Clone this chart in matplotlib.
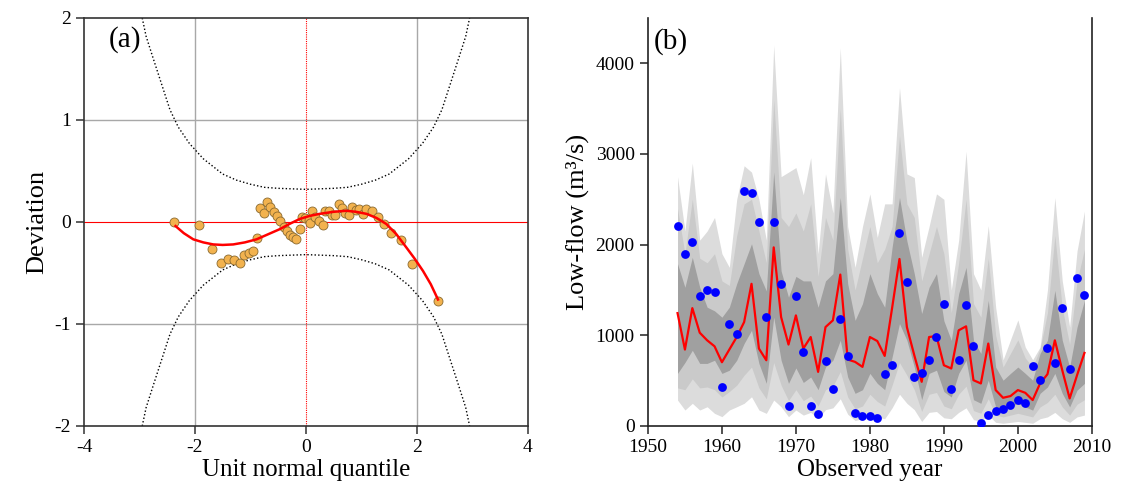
import numpy as np
import matplotlib
matplotlib.use("Agg")
import matplotlib.pyplot as plt

plt.rcParams["font.family"] = ["Liberation Serif", "DejaVu Serif"]
plt.rcParams["axes.unicode_minus"] = False

# ---- panel (a): deviation vs unit normal quantile ----
qq_x = [-2.37, -1.93, -1.70, -1.53, -1.41, -1.30, -1.18, -1.11, -1.03, -0.95,
        -0.88, -0.82, -0.76, -0.70, -0.64, -0.58, -0.52, -0.46, -0.40, -0.34,
        -0.28, -0.23, -0.17, -0.11, -0.07, -0.01, 0.05, 0.07, 0.11, 0.17,
        0.24, 0.30, 0.35, 0.41, 0.47, 0.53, 0.59, 0.65, 0.71, 0.77,
        0.83, 0.90, 0.96, 1.03, 1.09, 1.19, 1.30, 1.41, 1.53, 1.71,
        1.92, 2.38]
qq_y = [0.00, -0.03, -0.26, -0.40, -0.36, -0.37, -0.40, -0.32, -0.30, -0.28,
        -0.16, 0.14, 0.09, 0.20, 0.15, 0.10, 0.06, 0.01, -0.05, -0.09,
        -0.13, -0.15, -0.17, -0.07, 0.05, 0.04, 0.02, -0.01, 0.11, 0.05,
        0.01, -0.03, 0.11, 0.11, 0.07, 0.07, 0.18, 0.14, 0.09, 0.07,
        0.15, 0.12, 0.13, 0.08, 0.13, 0.11, 0.05, -0.02, -0.11, -0.18,
        -0.41, -0.77]

# fitted curve
fit_x = [-2.35, -2.2, -2.03, -1.85, -1.67, -1.5, -1.31, -1.1, -0.89, -0.68,
         -0.47, -0.3, -0.11, 0.07, 0.25, 0.5, 0.73, 0.9, 1.09, 1.27,
         1.45, 1.63, 1.81, 1.96, 2.11, 2.25, 2.38]
fit_y = [-0.04, -0.11, -0.17, -0.20, -0.22, -0.225, -0.22, -0.20, -0.17, -0.12,
         -0.07, -0.02, 0.03, 0.06, 0.08, 0.10, 0.11, 0.10, 0.08, 0.04,
         -0.02, -0.12, -0.25, -0.36, -0.48, -0.61, -0.76]

# confidence limits (upper half; lower is mirrored)
ci_x = [-2.95, -2.88, -2.75, -2.6, -2.45, -2.3, -2.1, -1.85, -1.5, -1.25, -1.0,
        -0.75, -0.5, 0.0, 0.5, 0.75, 1.0, 1.25, 1.5, 1.85, 2.1, 2.3, 2.45,
        2.6, 2.75, 2.88, 2.95]
ci_up = [2.0, 1.82, 1.6, 1.35, 1.1, 0.93, 0.77, 0.62, 0.47, 0.41, 0.37,
         0.34, 0.33, 0.32, 0.33, 0.34, 0.37, 0.41, 0.47, 0.62, 0.77, 0.93, 1.1,
         1.35, 1.6, 1.82, 2.0]

# ---- panel (b): low-flow by year ----
years = list(range(1954, 2010))
observed = [2210, 1900, 2030, 1430, 1505, 1480, 430, 1130, 1020, 2590,
            2575, 2245, 1200, 2255, 1565, 220, 1435, 815, 220, 130,
            720, 405, 1185, 770, 140, 110, 110, 85, 570, 670,
            2130, 1585, 540, 585, 725, 985, 1345, 405, 730, 1330,
            885, 30, 125, 170, 190, 235, 285, 255, 660, 505,
            855, 695, 1300, 625, 1635, 1450]
median = [1245, 843, 1300, 1029, 945, 879, 703, 843, 981, 1146,
          1568, 854, 725, 1970, 1201, 898, 1220, 854, 981, 597,
          1091, 1165, 1670, 733, 707, 652, 981, 937, 773, 1300,
          1842, 1091, 780, 487, 981, 993, 670, 634, 1055, 1099,
          505, 469, 909, 396, 311, 330, 396, 366, 286, 469,
          571, 945, 615, 304, 560, 806]
outer_hi = [2750, 2150, 2900, 2050, 2150, 2300, 1900, 1750, 2500, 2870,
            2800, 2500, 2050, 4200, 2750, 2800, 2850, 2550, 2960, 1900,
            2780, 2350, 4170, 2200, 1750, 2200, 2560, 2080, 2450, 2450,
            3730, 2780, 2740, 1860, 2200, 2560, 2500, 1500, 2050, 3030,
            1680, 1500, 2210, 1310, 730, 950, 1170, 870, 730, 870,
            1500, 2520, 1600, 1090, 1930, 2370]
outer_lo = [286, 176, 250, 176, 212, 139, 103, 176, 212, 250,
            322, 176, 139, 286, 212, 103, 176, 120, 150, 80,
            180, 200, 300, 130, 60, 80, 150, 100, 80, 200,
            350, 250, 180, 50, 150, 160, 90, 80, 150, 200,
            70, 50, 120, 40, 30, 40, 50, 40, 30, 80,
            100, 150, 80, 40, 100, 120]
mid_hi = [2400, 1900, 2500, 1850, 1800, 1900, 1600, 1550, 2100, 2450,
          2500, 2150, 1800, 3600, 2300, 2200, 2350, 2150, 2450, 1650,
          2300, 2050, 3500, 1950, 1500, 1850, 2200, 1800, 1950, 2200,
          3200, 2450, 2300, 1600, 1900, 2200, 1900, 1250, 1800, 2500,
          1350, 1200, 1850, 1000, 650, 800, 950, 750, 650, 850,
          1250, 2100, 1300, 900, 1600, 1950]
mid_lo = [420, 400, 520, 420, 430, 400, 320, 380, 450, 560,
          650, 420, 300, 700, 450, 280, 400, 280, 330, 220,
          400, 440, 600, 320, 190, 220, 350, 270, 220, 450,
          700, 560, 400, 160, 350, 370, 220, 190, 350, 440,
          170, 140, 300, 120, 100, 120, 140, 120, 100, 210,
          260, 350, 210, 120, 240, 290]
inner_hi = [1790, 1530, 1860, 1530, 1310, 1270, 1200, 1310, 1570, 1790,
            2010, 1680, 1490, 2800, 1710, 1420, 1650, 1600, 1600, 1310,
            1600, 1680, 2520, 1570, 1165, 1350, 1680, 1460, 1310, 1970,
            2520, 2040, 1680, 1240, 1530, 1680, 1160, 945, 1460, 1750,
            945, 800, 1385, 650, 505, 580, 650, 580, 505, 800,
            945, 1495, 945, 650, 1090, 1385]
inner_lo = [580, 700, 835, 690, 690, 725, 580, 615, 725, 910,
            1055, 690, 470, 1200, 725, 470, 640, 480, 540, 400,
            650, 725, 945, 540, 360, 400, 580, 470, 400, 760,
            1130, 945, 650, 290, 580, 615, 380, 320, 580, 725,
            290, 250, 505, 210, 175, 210, 250, 210, 175, 360,
            430, 580, 360, 210, 395, 470]

fig = plt.figure(figsize=(11.21, 5.04), dpi=100)
ax1 = fig.add_axes([0.0749, 0.1548, 0.396, 0.8095])
ax2 = fig.add_axes([0.578, 0.1548, 0.396, 0.8095])

# panel (a)
for g in [-2, 2]:
    ax1.axvline(g, color="#a8a8a8", lw=1.0, zorder=0)
for g in [-1, 1]:
    ax1.axhline(g, color="#a8a8a8", lw=1.0, zorder=0)
ax1.axvline(0, color="red", lw=0.8, ls=(0, (1, 1)), zorder=1)
ax1.axhline(0, color="red", lw=0.8, zorder=1)
ax1.plot(ci_x, ci_up, color="black", lw=1.0, ls=(0, (1, 1.6)))
ax1.plot(ci_x, [-v for v in ci_up], color="black", lw=1.0, ls=(0, (1, 1.6)))
ax1.scatter(qq_x, qq_y, s=42, color="#f2b24e", edgecolor="#8a6a30", lw=0.6, zorder=3)
ax1.plot(fit_x, fit_y, color="red", lw=1.8, zorder=4)
ax1.set_xlim(-4, 4)
ax1.set_ylim(-2, 2)
ax1.set_xticks([-4, -2, 0, 2, 4])
ax1.set_yticks([-2, -1, 0, 1, 2])
ax1.set_xlabel("Unit normal quantile", fontsize=18, labelpad=2)
ax1.set_ylabel("Deviation", fontsize=19, labelpad=4)
ax1.text(-3.55, 1.72, "(a)", fontsize=21)
for s in ax1.spines.values():
    s.set_color("#333333")
    s.set_linewidth(1.2)
ax1.tick_params(direction="out", length=6, width=1.1, labelsize=14, color="#333333")

# panel (b)
ax2.fill_between(years, outer_lo, outer_hi, color="#dcdcdc", lw=0, zorder=1)
ax2.fill_between(years, mid_lo, mid_hi, color="#cacaca", lw=0, zorder=2)
ax2.fill_between(years, inner_lo, inner_hi, color="#a0a0a0", lw=0, zorder=3)
ax2.plot(years, median, color="red", lw=1.6, zorder=4)
ax2.scatter(years, observed, s=40, color="#0000ff", lw=0, zorder=5)
ax2.set_xlim(1950, 2010)
ax2.set_ylim(0, 4500)
ax2.set_xticks(range(1950, 2011, 10))
ax2.set_yticks([0, 1000, 2000, 3000, 4000])
ax2.set_xlabel("Observed year", fontsize=18, labelpad=2)
ax2.set_ylabel("Low-flow (m³/s)", fontsize=19, labelpad=5)
ax2.text(1950.8, 4160, "(b)", fontsize=21)
ax2.spines["top"].set_visible(False)
for k in ["left", "bottom", "right"]:
    ax2.spines[k].set_color("#222222")
    ax2.spines[k].set_linewidth(1.2)
ax2.tick_params(direction="out", length=6, width=1.1, labelsize=14, color="#222222")

fig.savefig("out.png", dpi=100)
